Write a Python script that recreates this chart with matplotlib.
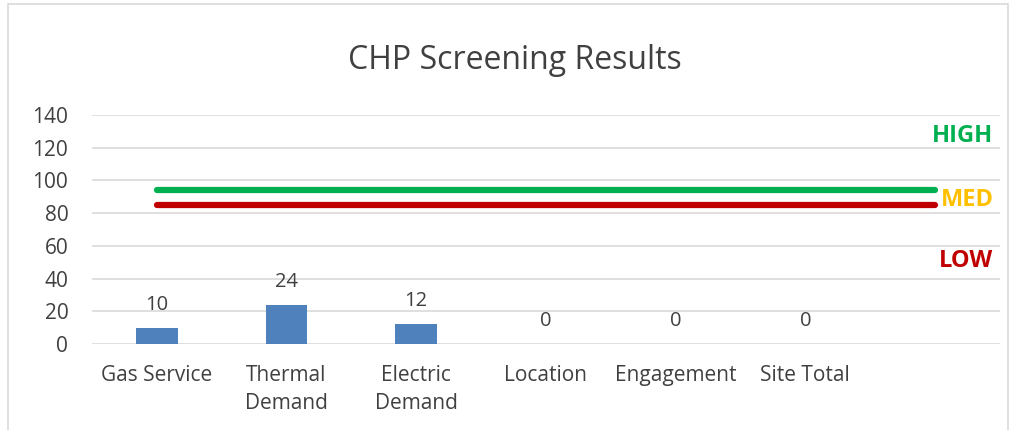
import numpy as np
import matplotlib.pyplot as plt
from matplotlib.patches import Rectangle

plt.rcParams['font.family'] = ['Open Sans', 'DejaVu Sans']

categories = ['Gas Service', 'Thermal\nDemand', 'Electric\nDemand', 'Location', 'Engagement', 'Site Total', '']
scores = [10, 24, 12, 0, 0, 0]
high_line = [94] * 7
med_line = [85] * 7
zone_labels = ['HIGH', 'MED', 'LOW']
zone_y = [127, 88, 51]
zone_colors = ['#00B050', '#FFC000', '#C00000']

fig = plt.figure(figsize=(10.1, 4.3), dpi=100)
ax = fig.add_axes([0.091, 0.2, 0.899, 0.5326])

x = np.arange(len(categories))
ax.bar(x[:len(scores)], scores, width=0.32, color='#4F81BD', zorder=3)
for xi, v in zip(x, scores):
    ax.text(xi, v + 8, str(v), ha='center', va='bottom', fontsize=14.5, color='#404040')

ax.plot(x, high_line, color='#00B050', linewidth=4.5, solid_capstyle='round', zorder=4)
ax.plot(x, med_line, color='#C00000', linewidth=4.5, solid_capstyle='round', zorder=4)

for lab, yv, c in zip(zone_labels, zone_y, zone_colors):
    ax.text(0.993, yv, lab, transform=ax.get_yaxis_transform(), ha='right', va='center',
            fontsize=17, fontweight='bold', color=c, zorder=5)

ax.set_xlim(-0.5, len(categories) - 0.5)
ax.set_ylim(0, 140)
ax.set_yticks(np.arange(0, 141, 20))
ax.set_xticks(x)
ax.set_xticklabels(categories, fontsize=15, color='#404040', linespacing=1.45)
ax.tick_params(axis='y', labelsize=15, labelcolor='#404040', length=0, pad=17)
ax.tick_params(axis='x', length=0, pad=15)
ax.grid(axis='y', color='#D9D9D9', linewidth=1.2, zorder=0)
for s in ax.spines.values():
    s.set_visible(False)

fig.text(0.51, 0.86, 'CHP Screening Results', ha='center', va='center', fontsize=23, color='#404040')

# chart frame
fig.patches.append(Rectangle((0.008, -0.01), 0.99, 1.0, transform=fig.transFigure,
                             fill=False, edgecolor='#D9D9D9', linewidth=1.2))

fig.savefig('out.png', dpi=100)
